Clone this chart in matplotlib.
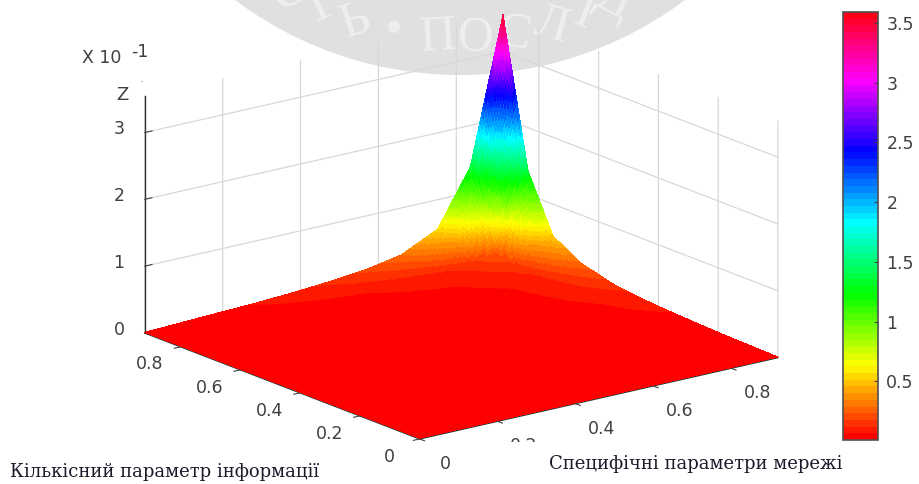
import numpy as np
import matplotlib
matplotlib.use("Agg")
import matplotlib.pyplot as plt
from matplotlib.cm import ScalarMappable
from matplotlib.colors import Normalize
from matplotlib.patches import Circle, Rectangle

# grid, listed from the peak corner outwards
x_grid = [0.92, 0.836, 0.752, 0.66, 0.57, 0.47, 0.38, 0.28, 0.18, 0.09, 0.0]
y_grid = [0.92, 0.836, 0.752, 0.66, 0.55, 0.46, 0.37, 0.28, 0.18, 0.09, 0.0]
z_values = [
    [3.55, 1.38, 0.56, 0.30, 0.20, 0.14, 0.10, 0.07, 0.05, 0.03, 0.01],
    [1.35, 0.24, 0.14, 0.10, 0.08, 0.06, 0.05, 0.04, 0.03, 0.02, 0.01],
    [0.52, 0.14, 0.08, 0.06, 0.05, 0.04, 0.03, 0.025, 0.02, 0.015, 0.01],
    [0.28, 0.10, 0.06, 0.05, 0.04, 0.03, 0.025, 0.02, 0.015, 0.01, 0.01],
    [0.15, 0.08, 0.05, 0.04, 0.03, 0.025, 0.02, 0.015, 0.01, 0.01, 0.01],
    [0.10, 0.06, 0.04, 0.03, 0.025, 0.02, 0.015, 0.01, 0.01, 0.01, 0.01],
    [0.07, 0.05, 0.03, 0.025, 0.02, 0.015, 0.01, 0.01, 0.01, 0.01, 0.01],
    [0.05, 0.04, 0.025, 0.02, 0.015, 0.01, 0.01, 0.01, 0.01, 0.01, 0.01],
    [0.03, 0.03, 0.02, 0.015, 0.01, 0.01, 0.01, 0.01, 0.01, 0.01, 0.01],
    [0.02, 0.02, 0.015, 0.01, 0.01, 0.01, 0.01, 0.01, 0.01, 0.01, 0.01],
    [0.01, 0.01, 0.01, 0.01, 0.01, 0.01, 0.01, 0.01, 0.01, 0.01, 0.01],
]
xy_ticks = [0, 0.2, 0.4, 0.6, 0.8]
xy_ticklabels = ["0", "0.2", "0.4", "0.6", "0.8"]
z_ticks = [0, 1, 2, 3]
cbar_ticks = [0.5, 1, 1.5, 2, 2.5, 3, 3.5]
cbar_ticklabels = ["0.5", "1", "1.5", "2", "2.5", "3", "3.5"]
x_label = "Специфічні параметри мережі"
y_label = "Кількісний параметр інформації"
watermark_letters = ["С", "Т", "Ь", "•", "П", "О", "С", "Л", "І", "Д", "О"]
watermark_angles = [-30.5, -24.7, -18, -11.2, -3.8, 2.7, 9.2, 15.7, 21.5, 27, 33.5]

W, H = 920, 484
TICK_COLOR = "#404040"
SANS = "DejaVu Sans"
SERIF = "DejaVu Serif"
XMAX = 0.92


def fine_mesh(xs, ys, zs, n=20):
    # MATLAB "shading interp": split each cell so the colour runs smoothly
    pos = np.arange(len(xs))
    fine = np.linspace(0, len(xs) - 1, (len(xs) - 1) * n + 1)
    fx = np.interp(fine, pos, xs)
    fy = np.interp(fine, pos, ys)
    zz = np.array([np.interp(fine, pos, row) for row in np.asarray(zs)])
    zz = np.array([np.interp(fine, pos, col) for col in zz.T]).T
    xx, yy = np.meshgrid(fx, fy)
    return xx, yy, zz


fig = plt.figure(figsize=(W / 100, H / 100), dpi=100)
fig.patch.set_facecolor("white")

# seal in the background
seal = Circle((460, H + 300), 375, transform=None, fc="#e0e0e0", ec="none", zorder=-5)
fig.add_artist(seal)
for ch, deg in zip(watermark_letters, watermark_angles):
    ang = np.deg2rad(deg)
    cx = 460 + 338 * np.sin(ang)
    cy = -300 + 338 * np.cos(ang)
    fig.text(cx / W, 1 - cy / H, ch, family="Liberation Serif", fontsize=36, color="#efefef",
             ha="center", va="center", rotation=-deg, zorder=-4)

ax = fig.add_axes([0.0335, -0.0435, 0.92, 1.12], projection="3d", proj_type="ortho")
ax.patch.set_alpha(0)
ax.view_init(elev=17.2, azim=-127.5)
ax.set_box_aspect((1, 1, 0.55), zoom=1.227)

norm = Normalize(0.01, 3.59)
cmap = plt.get_cmap("hsv", 64)
xx, yy, zz = fine_mesh(x_grid, y_grid, z_values)
face = 0.25 * (zz[:-1, :-1] + zz[1:, :-1] + zz[:-1, 1:] + zz[1:, 1:])
surf = ax.plot_surface(xx, yy, zz, facecolors=cmap(norm(face)), rstride=1, cstride=1,
                       shade=False, linewidth=0, antialiased=False)
surf.set_clip_on(False)

ax.set_xlim(0, XMAX)
ax.set_ylim(0, XMAX)
ax.set_zlim(0, 3.55)
ax.set_xticks(xy_ticks, [""] * len(xy_ticks))
ax.set_yticks(xy_ticks, [""] * len(xy_ticks))
ax.set_zticks(z_ticks, [""] * len(z_ticks))

for axis in (ax.xaxis, ax.yaxis, ax.zaxis):
    axis.set_pane_color((1, 1, 1, 0))
    axis.pane.set_edgecolor((1, 1, 1, 0))
    axis._axinfo["grid"]["color"] = "#d8d8d8"
    axis._axinfo["grid"]["linewidth"] = 0.9
    axis.line.set_color("#333333")
    axis.line.set_linewidth(1.0)
# the x and y ticks point away from the surface, the z ticks to the left
for axis in (ax.xaxis, ax.yaxis):
    axis._axinfo["tick"]["inward_factor"] = 0.22
    axis._axinfo["tick"]["outward_factor"] = 0.0
ax.zaxis._axinfo["tick"]["inward_factor"] = 0.0
ax.zaxis._axinfo["tick"]["outward_factor"] = 0.25
ax.tick_params(axis="both", colors=TICK_COLOR)

# tick labels sit off the axes, in data units of the 3D box
for t, lab in zip(xy_ticks, xy_ticklabels):
    ax.text(-0.079, t, -0.16, lab, family=SANS, fontsize=12.5, color=TICK_COLOR,
            ha="center", va="center")
    ax.text(t, -0.0875, -0.225, lab, family=SANS, fontsize=12.5, color=TICK_COLOR,
            ha="center", va="center")
for t in z_ticks:
    ax.text(0, XMAX + 0.086, t - 0.1, str(t), family=SANS, fontsize=12.5, color=TICK_COLOR,
            ha="center", va="center")

# colour bar
cax = fig.add_axes([843 / W, 1 - 440 / H, 35 / W, 428 / H])
sm = ScalarMappable(norm=norm, cmap=cmap)
cbar = fig.colorbar(sm, cax=cax)
cbar.set_ticks(cbar_ticks, labels=cbar_ticklabels)
cbar.ax.tick_params(direction="in", length=3, width=0.8, labelsize=12.5,
                    colors=TICK_COLOR, pad=6)
cbar.outline.set_edgecolor("#505050")
cbar.outline.set_linewidth(1.2)

# texts
fig.text(82 / W, 1 - 58 / H, "X 10", family=SANS, fontsize=12.5, color=TICK_COLOR, va="center")
fig.text(131 / W, 1 - 52 / H, "-1", family=SANS, fontsize=12.5, color=TICK_COLOR, va="center")
fig.text(122 / W, 1 - 95 / H, "Z", family=SANS, fontsize=13, color=TICK_COLOR, ha="center", va="center")
fig.text(141 / W, 1 - 80 / H, ".", family=SANS, fontsize=5, color=TICK_COLOR, ha="center", va="center")

# the text box of the labels hides the lower half of a tick label
fig.add_artist(Rectangle((500, 0), 420, 42, transform=None, fc="white", ec="none", zorder=5))
fig.text(10 / W, 1 - 472 / H, y_label, family=SERIF, fontsize=13, color="#1a1a2a", va="center", zorder=6)
fig.text(549 / W, 1 - 464 / H, x_label, family=SERIF, fontsize=13, color="#1a1a2a", va="center", zorder=6)

fig.savefig("out.png", dpi=100)
